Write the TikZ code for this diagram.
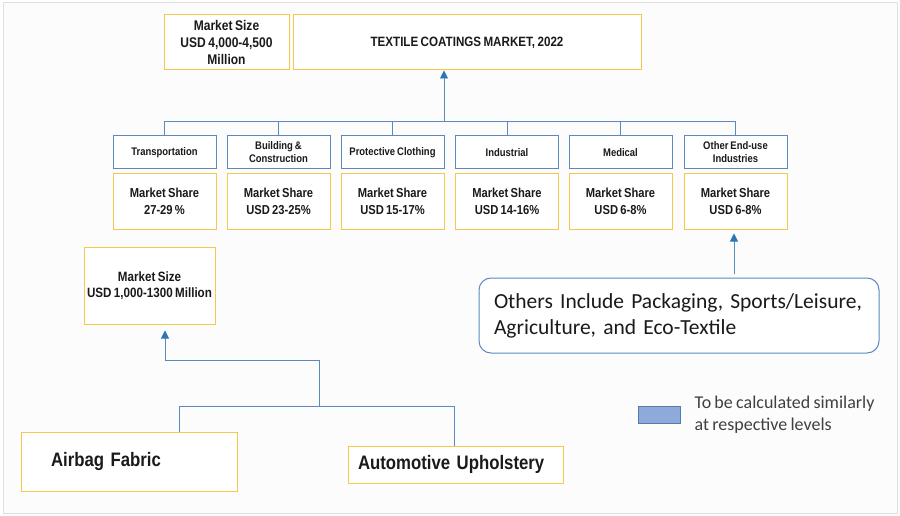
\documentclass[tikz,border=0pt]{standalone}
\usepackage{fontspec}
\setmainfont{Liberation Sans}
\newfontfamily\cond[FakeStretch=0.86,WordSpace=0.75]{Liberation Sans}
\newfontfamily\cali[WordSpace=0.8]{Carlito}
\usetikzlibrary{arrows.meta,calc}
\definecolor{yb}{HTML}{F4C84A}
\definecolor{bb}{HTML}{5A8AC0}
\definecolor{ab}{HTML}{2E75B6}
\definecolor{tx}{HTML}{1A1A1A}
\definecolor{lg}{HTML}{8EAADB}
\begin{document}
\begin{tikzpicture}[x=1pt,y=-1pt,
  ybox/.style={draw=yb,line width=1pt,fill=white,minimum width=#1,inner sep=0pt,align=center,text=tx,font=\cond\bfseries},
  bbox/.style={draw=bb,line width=1pt,fill=white,minimum width=103pt,minimum height=33pt,inner sep=0pt,align=center,text=tx,font=\cond\bfseries\fontsize{11}{13}\selectfont},
  share/.style={ybox=103pt,minimum height=55pt,font=\cond\bfseries\fontsize{13}{17}\selectfont},
  conn/.style={draw=bb,line width=0.9pt},
  arr/.style={conn,-{Triangle[width=8pt,length=8pt,fill=ab,color=ab]}}]
\useasboundingbox (0,0) rectangle (900,516);
\draw[draw=black!12,fill=black!1,line width=1pt] (3,3) rectangle (897,513);
% top
\node[ybox=125pt,minimum height=55pt,font=\cond\bfseries\fontsize{14}{17}\selectfont] (msize) at (226.5,42.5) {Market Size\\USD 4,000-4,500\\Million};
\node[ybox=348pt,minimum height=55pt,font=\cond\bfseries\fontsize{13.5}{15}\selectfont] (title) at (467,42.5) {TEXTILE COATINGS MARKET, 2022};
% categories
\node[bbox] (c1) at (164.5,152.5) {Transportation};
\node[bbox] (c2) at (278.5,152.5) {Building \&\\Construction};
\node[bbox] (c3) at (392.5,152.5) {Protective Clothing};
\node[bbox] (c4) at (507,152.5) {Industrial};
\node[bbox] (c5) at (620.5,152.5) {Medical};
\node[bbox] (c6) at (735.5,152.5) {Other End-use\\Industries};
\node[share] (s1) at (164.5,201.5) {Market Share\\27-29 \%};
\node[share] (s2) at (278.5,201.5) {Market Share\\USD 23-25\%};
\node[share] (s3) at (392.5,201.5) {Market Share\\USD 15-17\%};
\node[share] (s4) at (507,201.5) {Market Share\\USD 14-16\%};
\node[share] (s5) at (620.5,201.5) {Market Share\\USD 6-8\%};
\node[share] (s6) at (735.5,201.5) {Market Share\\USD 6-8\%};
% bus
\coordinate (bus) at (444,121);
\draw[conn] (c1.north) |- (c6.north |- bus) -- (c6.north);
\foreach \i in {2,3,4,5} {\draw[conn] (c\i.north) -- (c\i.north |- bus);}
\draw[arr] (bus) -- (title.south -| bus);
% lower left
\node[ybox=131pt,minimum height=77pt,font=\cond\bfseries\fontsize{13.5}{16}\selectfont] (lsize) at (149.5,285.5) {Market Size\\USD 1,000-1300 Million};
\node[ybox=216pt,minimum height=59pt,font=\cond\bfseries\fontsize{19.5}{22}\selectfont,text width=156pt,align=left] (airbag) at (129,461.5) {Airbag Fabric};
\node[ybox=215pt,minimum height=37pt,font=\cond\bfseries\fontsize{19.5}{22}\selectfont,text width=195pt,align=left] (auto) at (455.5,464.5) {Automotive Upholstery};
\coordinate (j1) at (319,406);
\coordinate (j2) at (319,360);
\draw[conn] ([xshift=50pt]airbag.north) |- ([xshift=-1.5pt]auto.north |- j1) -- ([xshift=-1.5pt]auto.north);
\draw[arr,shorten >=6pt] (j1) -- (j2) -| ([xshift=15.5pt]lsize.south);
% others
\node[draw=bb,line width=1pt,fill=white,rounded corners=12pt,minimum width=400pt,minimum height=75pt,text width=370pt,align=left,inner sep=0pt,text=tx,font=\cali\fontsize{21.5}{26}\selectfont] (others) at (679,315.5) {Others Include Packaging, Sports/Leisure,\\Agriculture, and Eco-Textile};
\draw[arr,shorten <=4pt,shorten >=4pt] ([xshift=55pt]others.north) -- ([xshift=55pt]others.north |- s6.south);
% legend
\node[draw=bb!90!black,fill=lg,line width=0.8pt,minimum width=42pt,minimum height=17pt,inner sep=0pt] (leg) at (659,414.5) {};
\node[anchor=west,align=left,inner sep=0pt,text=black!75,font=\cali\fontsize{18}{22}\selectfont] (legt) at ([xshift=14pt]leg.east) {To be calculated similarly\\at respective levels};
\end{tikzpicture}
\end{document}
